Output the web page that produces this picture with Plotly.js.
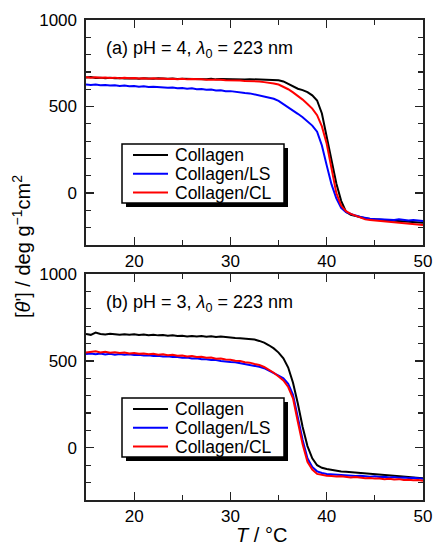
<!DOCTYPE html>
<html><head><meta charset="utf-8">
<script src="https://cdn.plot.ly/plotly-3.0.1.min.js"></script>
<style>html,body{margin:0;padding:0;background:#fff}#c{width:434px;height:545px}</style>
</head><body><div id="c"></div>
<script>
const T = [15,15.5,16,16.5,17,17.5,18,18.5,19,19.5,20,20.5,21,21.5,22,22.5,23,23.5,24,24.5,25,25.5,26,26.5,27,27.5,28,28.5,29,29.5,30,30.5,31,31.5,32,32.5,33,33.5,34,34.5,35,35.5,36,36.5,37,37.5,38,38.5,39,39.5,40,40.5,41,41.5,42,42.5,43,43.5,44,44.5,45,45.5,46,46.5,47,47.5,48,48.5,49,49.5,50];
const seriesNames = ["Collagen","Collagen/LS","Collagen/CL"];
const seriesColors = ["#000000","#0000ff","#ff0000"];
const panelLabels = ["(a) pH = 4, <i>λ</i><sub>0</sub> = 223 nm","(b) pH = 3, <i>λ</i><sub>0</sub> = 223 nm"];

// panel (a) pH 4
const a_collagen = [668,670,665,667,664,666,663,665,662,664,663,661,664,662,660,663,661,660,662,659,661,660,658,661,659,658,660,657,659,658,660,657,658,656,658,657,659,656,658,655,652,645,632,615,603,595,583,565,535,460,330,190,55,-45,-108,-125,-133,-140,-145,-150,-152,-155,-157,-160,-158,-162,-165,-166,-168,-170,-172];
const a_ls = [628,625,627,623,625,621,623,619,621,617,619,615,617,613,614,611,612,609,610,606,607,603,605,600,601,597,598,593,594,589,589,584,583,578,576,570,566,560,552,545,533,515,495,478,458,438,415,390,355,275,160,50,-30,-85,-110,-122,-130,-138,-145,-148,-150,-152,-150,-153,-155,-152,-156,-158,-155,-160,-162];
const a_cl = [670,667,669,666,668,665,667,664,666,663,665,662,664,661,663,660,662,659,661,658,660,657,659,656,657,655,656,653,655,652,653,650,651,648,648,645,645,641,638,633,627,615,600,582,562,540,515,488,450,385,285,140,0,-72,-105,-120,-132,-142,-152,-155,-158,-160,-162,-165,-166,-170,-172,-175,-178,-182,-185];

// panel (b) pH 3
const b_collagen = [655,650,663,655,652,656,653,650,654,651,653,649,652,648,650,647,649,645,648,643,645,641,644,640,643,639,642,638,641,637,636,632,630,628,627,623,615,605,590,572,548,515,462,375,255,120,10,-60,-100,-115,-122,-128,-132,-136,-138,-140,-143,-145,-148,-150,-152,-155,-157,-158,-160,-162,-165,-167,-170,-172,-175];
const b_ls = [540,543,538,542,537,541,536,540,535,538,534,536,531,533,528,530,525,527,522,523,518,519,514,515,510,510,505,505,500,499,494,492,487,484,478,474,466,458,445,430,415,400,368,305,180,45,-60,-110,-135,-145,-150,-152,-155,-158,-157,-160,-162,-160,-164,-166,-163,-168,-166,-170,-168,-172,-170,-174,-172,-176,-178];
const b_cl = [548,552,555,548,553,547,550,545,548,543,546,541,543,538,541,536,538,533,535,530,531,526,528,522,524,518,519,513,514,508,507,501,499,492,490,482,477,465,450,432,410,388,350,285,150,20,-80,-125,-150,-157,-160,-162,-165,-163,-167,-170,-168,-172,-175,-173,-177,-176,-180,-178,-182,-180,-185,-183,-187,-185,-190];

const FONT = "Liberation Sans, Arial, Helvetica, sans-serif";
const W = 434, H = 545, ML = 86, MR = 11, MT = 20, MB = 45;
const PW = W - ML - MR, PH = H - MT - MB;
const px2x = p => (p - ML) / PW;
const py2y = p => (H - MB - p) / PH;

const traces = [];
const panels = [
  {ys:[a_collagen,a_ls,a_cl], xa:'x2', ya:'y2'},
  {ys:[b_collagen,b_ls,b_cl], xa:'x', ya:'y'}
];
panels.forEach(p => {
  p.ys.forEach((y,i) => traces.push({x:T, y:y, xaxis:p.xa, yaxis:p.ya, type:'scatter', mode:'lines',
    name:seriesNames[i], showlegend:false, line:{color:seriesColors[i], width:2}}));
});

function axisCommon(extra){
  return Object.assign({
    showline:true, linecolor:'#222', linewidth:1.6, mirror:'ticks',
    ticks:'inside', ticklen:8, tickwidth:1.2, tickcolor:'#222',
    showgrid:false, zeroline:false,
    tickfont:{family:FONT, size:17, color:'#000'},
  }, extra);
}
const xCommon = {range:[15,50], tick0:0, dtick:10, minor:{dtick:5, ticks:'inside', ticklen:5, tickcolor:'#222', tickwidth:1.2, showgrid:false}};
const yCommon = {range:[-300,1000], tick0:0, dtick:500, minor:{dtick:100, ticks:'inside', ticklen:5, tickcolor:'#222', tickwidth:1.2, showgrid:false}, ticklabelstandoff:4};

const topDom = [(H-MB-245)/PH, 1];
const botDom = [0, (H-MB-274)/PH];

const shapes = [];
const annotations = [];
// legends drawn per panel: box, shadow, sample lines
const legendBoxes = [{top:144}, {top:398}];
legendBoxes.forEach(lb => {
  const x0 = 122, x1 = 284, y0 = lb.top, y1 = lb.top + 59;
  shapes.push({type:'rect', xref:'paper', yref:'paper', x0:px2x(x0+4), x1:px2x(x1+4), y0:py2y(y0+4), y1:py2y(y1+4), fillcolor:'#000', line:{width:0}, layer:'above'});
  shapes.push({type:'rect', xref:'paper', yref:'paper', x0:px2x(x0), x1:px2x(x1), y0:py2y(y0), y1:py2y(y1), fillcolor:'#fff', line:{color:'#000', width:1.5}, layer:'above'});
  seriesNames.forEach((n,i) => {
    const yy = y0 + 11 + i*18.8;
    shapes.push({type:'line', xref:'paper', yref:'paper', x0:px2x(133), x1:px2x(168), y0:py2y(yy), y1:py2y(yy), line:{color:seriesColors[i], width:2}, layer:'above'});
    annotations.push({xref:'paper', yref:'paper', x:px2x(173), y:py2y(yy), xanchor:'left', yanchor:'middle', showarrow:false, text:n, font:{family:FONT, size:17.5, color:'#000'}});
  });
});

annotations.push({xref:'paper', yref:'paper', x:px2x(104), y:py2y(49), xanchor:'left', yanchor:'middle', showarrow:false, text:panelLabels[0], font:{family:FONT, size:18, color:'#000'}});
annotations.push({xref:'paper', yref:'paper', x:px2x(104), y:py2y(303), xanchor:'left', yanchor:'middle', showarrow:false, text:panelLabels[1], font:{family:FONT, size:18, color:'#000'}});
annotations.push({xref:'paper', yref:'paper', x:px2x(21), y:py2y(247), xanchor:'center', yanchor:'middle', textangle:-90, showarrow:false, text:"[<i>θ</i>'] / deg g<sup>−1</sup>cm<sup>2</sup>", font:{family:FONT, size:20, color:'#000'}});
annotations.push({xref:'paper', yref:'paper', x:px2x(261), y:py2y(535), xanchor:'center', yanchor:'middle', showarrow:false, text:"<i>T</i> / °C", font:{family:FONT, size:20, color:'#000'}});

const layout = {
  width:W, height:H, margin:{l:ML, r:MR, t:MT, b:MB, pad:0},
  paper_bgcolor:'#fff', plot_bgcolor:'#fff', showlegend:false,
  font:{family:FONT, size:17, color:'#000'},
  xaxis: axisCommon(Object.assign({anchor:'y'}, xCommon)),
  yaxis: axisCommon(Object.assign({anchor:'x', domain:botDom}, yCommon)),
  xaxis2: axisCommon(Object.assign({anchor:'y2', matches:'x'}, xCommon)),
  yaxis2: axisCommon(Object.assign({anchor:'x2', domain:topDom}, yCommon)),
  shapes:shapes, annotations:annotations
};
Plotly.newPlot('c', traces, layout, {staticPlot:true, displayModeBar:false});
</script></body></html>
